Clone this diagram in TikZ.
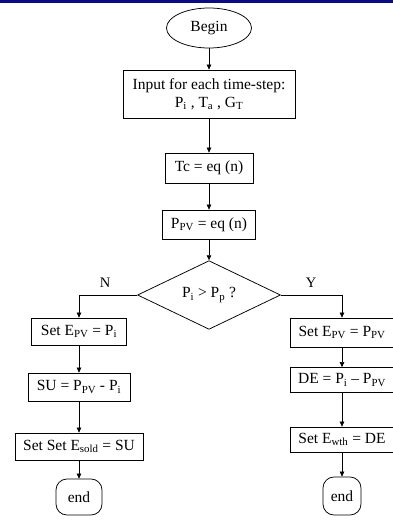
\documentclass[tikz,border=0pt]{standalone}
\usepackage{fontspec}
\setmainfont{Liberation Serif}
\usetikzlibrary{arrows.meta,positioning,shapes.geometric}
\definecolor{pagenavy}{RGB}{12,12,130}
\newcommand{\sbs}[1]{\textsubscript{#1}}

\begin{document}
\begin{tikzpicture}[
  x=1pt, y=1pt,
  every node/.style={font=\fontsize{15.5}{18}\selectfont},
  box/.style={draw, rectangle, minimum height=28pt, inner sep=2pt,
              align=center, line width=0.75pt},
  term/.style={draw, ellipse, minimum width=85pt, minimum height=40pt,
               inner sep=0pt, line width=0.75pt},
  stopbox/.style={draw, rounded corners=11pt, minimum width=46pt,
                  minimum height=36pt, line width=0.75pt},
  decision/.style={draw, diamond, minimum width=143pt, minimum height=56pt,
                   inner sep=0pt, line width=0.75pt},
  arrow/.style={-{Triangle[length=5pt,width=4.5pt]}, line width=0.6pt},
  branch/.style={font=\fontsize{14.5}{16}\selectfont}
]
\useasboundingbox (0,0) rectangle (393,-522);
\fill[pagenavy] (0,0) rectangle (393,-2.5);

% Main column
\node[term] (begin) at (209,-28) {Begin};
\node[box, minimum width=172pt, minimum height=48pt] (input) at (209,-94)
  {Input for each time-step:\\ P\sbs{i} , T\sbs{a} , G\sbs{T}};
\node[box, minimum width=88pt, minimum height=30pt] (tc) at (209,-168) {Tc = eq (n)};
\node[box, minimum width=93pt, minimum height=29pt] (ppv) at (209,-224.5)
  {P\sbs{PV} = eq (n)};
\node[decision] (dec) at (209,-295) {P\sbs{i} > P\sbs{p} ?};

% Branch labels
\node[branch] (no) at (105,-283) {N};
\node[branch] (yes) at (311,-283) {Y};

% N branch
\node[box, minimum width=95pt, minimum height=27pt] (ls1) at (79,-331.5)
  {Set E\sbs{PV} = P\sbs{i}};
\node[box, minimum width=102pt, minimum height=28pt] (ls2) at (79,-387)
  {SU = P\sbs{PV} - P\sbs{i}};
\node[box, minimum width=128pt, minimum height=27pt] (ls3) at (79,-446.5)
  {Set Set E\sbs{sold} = SU};
\node[stopbox] (lend) at (79,-497) {end};

% Y branch
\node[box, minimum width=104pt, minimum height=29pt] (rs1) at (342,-332.5)
  {Set E\sbs{PV} = P\sbs{PV}};
\node[box, minimum width=104pt, minimum height=25pt] (rs2) at (342,-380)
  {DE = P\sbs{i} -- P\sbs{PV}};
\node[box, minimum width=104pt, minimum height=25pt] (rs3) at (342,-439.5)
  {Set E\sbs{wth} = DE};
\node[stopbox, minimum width=38pt, minimum height=38pt] (rend) at (342,-496) {end};

% Arrows
\draw[arrow] (begin) -- (input);
\draw[arrow] (input) -- (tc);
\draw[arrow] (tc) -- (ppv);
\draw[arrow] (ppv) -- (dec);
\draw[arrow] (dec.west) -| (ls1.north);
\draw[arrow] (dec.east) -| (rs1.north);
\draw[arrow] (ls1) -- (ls2);
\draw[arrow] (ls2) -- (ls3);
\draw[arrow] (ls3) -- (lend);
\draw[arrow] (rs1) -- (rs2);
\draw[arrow] (rs2) -- (rs3);
\draw[arrow] (rs3) -- (rend);

\end{tikzpicture}
\end{document}
